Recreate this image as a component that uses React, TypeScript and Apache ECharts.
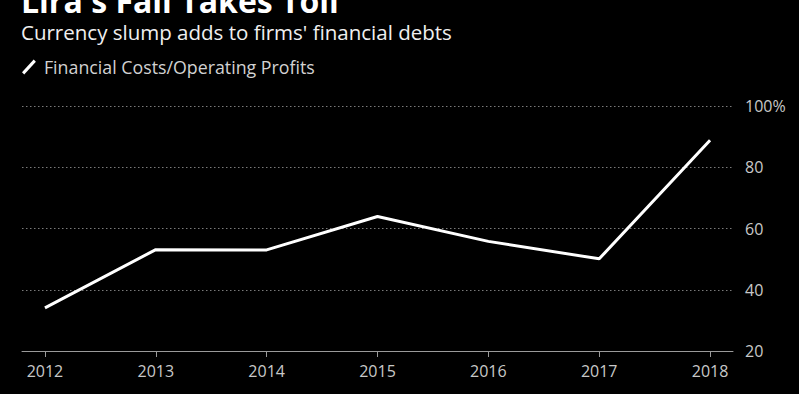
import React, { useEffect, useRef } from "react";
import * as echarts from "echarts";

const years = [2012, 2013, 2014, 2015, 2016, 2017, 2018];
const ratio = [34.1, 53.1, 53.0, 63.9, 55.8, 50.1, 88.8];
const yTicks = [20, 40, 60, 80, 100];
const titleText = "Lira's Fall Takes Toll";
const subtitleText = "Currency slump adds to firms' financial debts";
const seriesName = "Financial Costs/Operating Profits";

const FONT = "'Open Sans', 'Noto Sans', sans-serif";

export default function App() {
  const ref = useRef<HTMLDivElement>(null);
  useEffect(() => {
    if (!ref.current) return;
    const chart = echarts.init(ref.current, undefined, { renderer: "svg" });
    chart.setOption({
      animation: false,
      backgroundColor: "#000",
      textStyle: { fontFamily: FONT },
      title: [
        {
          text: titleText,
          left: 16,
          top: -20,
          textStyle: { color: "#fff", fontSize: 32, fontWeight: "bold", fontFamily: FONT, lineHeight: 30 },
        },
        {
          text: subtitleText,
          left: 16,
          top: 15.5,
          textStyle: { color: "#f0f0f0", fontSize: 20.5, fontWeight: "normal", fontFamily: FONT, lineHeight: 22 },
        },
      ],
      legend: {
        left: 17,
        top: 53,
        itemWidth: 16,
        itemHeight: 15,
        itemGap: 6,
        icon: "path://M0,12.5 L10.5,1 L12.5,3 L2,14.5 Z",
        textStyle: { color: "#d2d2d2", fontSize: 17.8, fontFamily: FONT, padding: [0, 0, 0, 2] },
        data: [{ name: seriesName, itemStyle: { color: "#fff" } }],
      },
      grid: { left: 22, right: 66, top: 106, bottom: 43 },
      xAxis: {
        type: "value",
        min: years[0] - 0.207,
        max: years[years.length - 1] + 0.207,
        splitLine: { show: false },
        axisLine: { show: true, lineStyle: { color: "#9a9a9a", width: 1 } },
        axisTick: {
          show: true,
          length: 6,
          lineStyle: { color: "#9a9a9a" },
          customValues: years,
        },
        axisLabel: {
          color: "#c8c8c8",
          fontSize: 16,
          margin: 12,
          customValues: years,
          formatter: (v: number) => String(Math.round(v)),
        },
      },
      yAxis: {
        type: "value",
        position: "right",
        min: yTicks[0],
        max: yTicks[yTicks.length - 1],
        interval: 20,
        axisLine: { show: false },
        axisTick: { show: false },
        axisLabel: {
          color: "#c8c8c8",
          fontSize: 16,
          margin: 12,
          formatter: (v: number) => (v === 100 ? v + "%" : String(v)),
        },
        splitLine: { show: true, lineStyle: { color: "#7a7a7a", type: [1.5, 2.5], width: 1.2 } },
      },
      series: [
        {
          name: seriesName,
          type: "line",
          data: years.map((y, i) => [y, ratio[i]]),
          showSymbol: false,
          lineStyle: { color: "#fff", width: 3 },
          itemStyle: { color: "#fff" },
        },
      ],
    });
    return () => chart.dispose();
  }, []);
  return (
    <div
      ref={ref}
      style={{ position: "fixed", left: 0, top: 0, width: 799, height: 394, background: "#000" }}
    />
  );
}
